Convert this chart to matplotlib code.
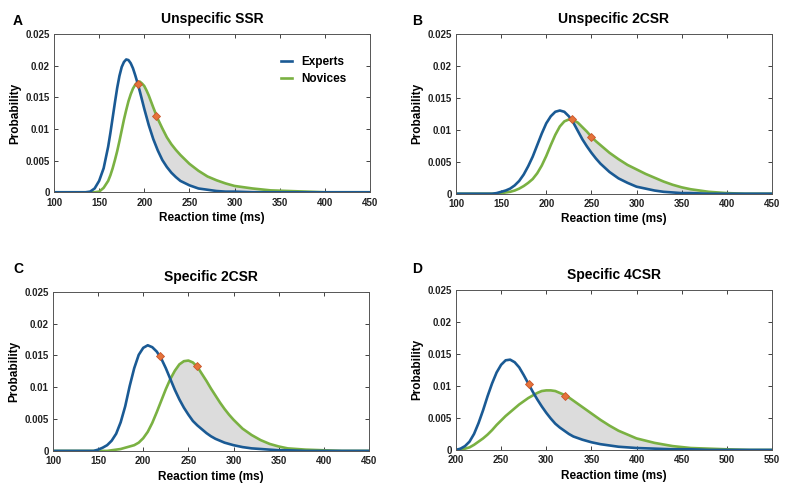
import matplotlib
matplotlib.use("Agg")
from matplotlib import pyplot as plt
from matplotlib.ticker import FuncFormatter
import numpy as np

plt.rcParams["font.family"] = ["Liberation Sans", "DejaVu Sans"]
plt.rcParams["font.weight"] = "bold"

BLUE = "#1a5a94"
GREEN = "#7ab142"
ORANGE = "#e5733a"

# panel A - Unspecific SSR
a_rt = [100, 135, 140, 145, 150, 155, 160, 162.5, 165, 167.5, 170, 172.5, 175, 177.5, 180,
        182.5, 185, 187.5, 190, 192.5, 195, 197.5, 200, 202.5, 205, 210, 215, 220, 225, 230,
        235, 240, 250, 260, 270, 280, 290, 300, 320, 340, 360, 380, 400, 450]
a_experts = [0, 0, 0.0001, 0.0006, 0.0018, 0.0038, 0.0072, 0.0094, 0.0118, 0.0142, 0.0165,
             0.0184, 0.0198, 0.0206, 0.0210, 0.0209, 0.0204, 0.0196, 0.0185, 0.0173, 0.0160,
             0.0146, 0.0132, 0.0119, 0.0106, 0.0084, 0.0066, 0.0051, 0.0040, 0.0031, 0.0024,
             0.0018, 0.0011, 0.0006, 0.0004, 0.0002, 0.0001, 0.0001, 0, 0, 0, 0, 0, 0]
a_novices = [0, 0, 0, 0, 0.0001, 0.0007, 0.0018, 0.0027, 0.0038, 0.0051, 0.0065, 0.0081,
             0.0098, 0.0115, 0.0130, 0.0144, 0.0155, 0.0164, 0.0170, 0.0174, 0.0175, 0.0172,
             0.0168, 0.0161, 0.0153, 0.0134, 0.0116, 0.0101, 0.0087, 0.0076, 0.0067, 0.0059,
             0.0045, 0.0034, 0.0025, 0.0019, 0.0014, 0.0010, 0.0006, 0.0003, 0.0002, 0.0001,
             0, 0]
a_marks_x = [193, 213]
a_marks_y = [0.0171, 0.0121]

# panel B - Unspecific 2CSR
b_rt = [100, 140, 145, 150, 155, 160, 165, 170, 175, 180, 185, 190, 195, 200, 205, 210, 215,
        220, 225, 230, 235, 240, 245, 250, 255, 260, 270, 280, 290, 300, 310, 320, 330, 340,
        350, 360, 380, 400, 420, 450]
b_experts = [0, 0, 0.0001, 0.0003, 0.0005, 0.0008, 0.0013, 0.0020, 0.0030, 0.0043, 0.0058,
             0.0076, 0.0094, 0.0110, 0.0121, 0.0128, 0.0130, 0.0128, 0.0121, 0.0111, 0.0098,
             0.0085, 0.0074, 0.0064, 0.0055, 0.0047, 0.0034, 0.0024, 0.0017, 0.0011, 0.0008,
             0.0005, 0.0003, 0.0002, 0.0001, 0.0001, 0, 0, 0, 0]
b_novices = [0, 0, 0, 0.0001, 0.0002, 0.0003, 0.0005, 0.0008, 0.0012, 0.0017, 0.0023, 0.0032,
             0.0044, 0.0059, 0.0076, 0.0092, 0.0105, 0.0113, 0.0116, 0.0115, 0.0111, 0.0104,
             0.0097, 0.0089, 0.0082, 0.0076, 0.0064, 0.0054, 0.0045, 0.0038, 0.0031, 0.0025,
             0.0019, 0.0014, 0.0010, 0.0007, 0.0003, 0.0001, 0, 0]
b_marks_x = [228.5, 250]
b_marks_y = [0.0116, 0.0089]

# panel C - Specific 2CSR
c_rt = [100, 145, 150, 155, 160, 165, 170, 175, 180, 185, 190, 195, 200, 205, 210, 215, 220,
        225, 230, 235, 240, 245, 250, 255, 260, 265, 270, 275, 280, 285, 290, 295, 300, 310,
        320, 330, 340, 350, 360, 380, 400, 420, 450]
c_experts = [0, 0, 0.0002, 0.0005, 0.0009, 0.0016, 0.0027, 0.0045, 0.0070, 0.0102, 0.0130,
             0.0151, 0.0162, 0.0166, 0.0163, 0.0156, 0.0145, 0.0130, 0.0113, 0.0096, 0.0081,
             0.0068, 0.0057, 0.0047, 0.0040, 0.0034, 0.0028, 0.0023, 0.0019, 0.0016, 0.0013,
             0.0011, 0.0009, 0.0006, 0.0004, 0.0003, 0.0002, 0.0001, 0.0001, 0, 0, 0, 0]
c_novices = [0, 0, 0, 0, 0, 0.0001, 0.0002, 0.0003, 0.0005, 0.0007, 0.0009, 0.0013, 0.0020,
             0.0030, 0.0044, 0.0061, 0.0079, 0.0097, 0.0113, 0.0126, 0.0136, 0.0141, 0.0142,
             0.0139, 0.0132, 0.0121, 0.0110, 0.0098, 0.0087, 0.0076, 0.0066, 0.0057, 0.0049,
             0.0035, 0.0025, 0.0017, 0.0011, 0.0007, 0.0004, 0.0002, 0.0001, 0, 0]
c_marks_x = [218.5, 259]
c_marks_y = [0.0149, 0.0134]

# panel D - Specific 4CSR
d_rt = [200, 205, 210, 215, 220, 225, 230, 235, 240, 245, 250, 255, 260, 265, 270, 275, 280,
        285, 290, 295, 300, 305, 310, 315, 320, 325, 330, 340, 350, 360, 370, 380, 390, 400,
        420, 440, 460, 480, 500, 525, 550]
d_experts = [0, 0.0002, 0.0006, 0.0013, 0.0025, 0.0042, 0.0062, 0.0084, 0.0104, 0.0121,
             0.0133, 0.0140, 0.0141, 0.0137, 0.0129, 0.0117, 0.0104, 0.0091, 0.0079, 0.0068,
             0.0058, 0.0049, 0.0041, 0.0035, 0.0030, 0.0025, 0.0021, 0.0016, 0.0012, 0.0009,
             0.0007, 0.0005, 0.0004, 0.0003, 0.0002, 0.0001, 0.0001, 0, 0, 0, 0]
d_novices = [0, 0.0001, 0.0002, 0.0004, 0.0008, 0.0013, 0.0018, 0.0024, 0.0031, 0.0039,
             0.0046, 0.0053, 0.0059, 0.0065, 0.0071, 0.0076, 0.0081, 0.0085, 0.0089, 0.0092,
             0.0093, 0.0093, 0.0092, 0.0089, 0.0086, 0.0082, 0.0077, 0.0067, 0.0057, 0.0047,
             0.0038, 0.0030, 0.0024, 0.0018, 0.0011, 0.0006, 0.0003, 0.0002, 0.0001, 0, 0]
d_marks_x = [280.5, 321]
d_marks_y = [0.0103, 0.0085]

panels = [
    ("A", "Unspecific SSR", a_rt, a_experts, a_novices, a_marks_x, a_marks_y, (100, 450),
     [0.0686, 0.606, 0.4015, 0.324], (0.0165, 0.957)),
    ("B", "Unspecific 2CSR", b_rt, b_experts, b_novices, b_marks_x, b_marks_y, (100, 450),
     [0.5794, 0.603, 0.4015, 0.328], (0.5235, 0.957)),
    ("C", "Specific 2CSR", c_rt, c_experts, c_novices, c_marks_x, c_marks_y, (100, 450),
     [0.0673, 0.076, 0.4015, 0.326], (0.0165, 0.449)),
    ("D", "Specific 4CSR", d_rt, d_experts, d_novices, d_marks_x, d_marks_y, (200, 550),
     [0.5794, 0.078, 0.4015, 0.328], (0.5235, 0.449)),
]

fig = plt.figure(figsize=(7.87, 4.88), dpi=100)

for letter, title, rt, exp_, nov, mx, my, xlim, rect, lpos in panels:
    ax = fig.add_axes(rect)
    rt = np.array(rt)
    exp_ = np.array(exp_)
    nov = np.array(nov)
    ax.fill_between(rt, exp_, nov, where=nov >= exp_, interpolate=True,
                    color="#dcdcdc", linewidth=0)
    ax.plot(rt, nov, color=GREEN, lw=1.9, label="Novices", solid_joinstyle="round")
    ax.plot(rt, exp_, color=BLUE, lw=1.9, label="Experts", solid_joinstyle="round")
    ax.plot(mx, my, "D", color=ORANGE, markersize=4.5, markeredgecolor="#c9552a",
            markeredgewidth=0.6, zorder=5)
    ax.set_xlim(*xlim)
    ax.set_ylim(0, 0.025)
    ax.set_yticks([0, 0.005, 0.01, 0.015, 0.02, 0.025])
    ax.set_xticks(np.arange(xlim[0], xlim[1] + 1, 50))
    ax.yaxis.set_major_formatter(FuncFormatter(lambda v, p: "%g" % v))
    ax.tick_params(direction="in", top=True, right=True, length=3, width=0.6,
                   labelsize=7, colors="#222222")
    ax.tick_params(axis="x", pad=4)
    ax.tick_params(axis="y", pad=3)
    for lab in ax.get_xticklabels() + ax.get_yticklabels():
        lab.set_fontweight("bold")
    for s in ax.spines.values():
        s.set_linewidth(0.7)
        s.set_color("#555555")
    ax.set_xlabel("Reaction time (ms)", fontsize=8.5, fontweight="bold", labelpad=3)
    ax.set_ylabel("Probability", fontsize=8.5, fontweight="bold", labelpad=3)
    ax.set_title(title, fontsize=10, fontweight="bold", pad=8)
    fig.text(lpos[0], lpos[1], letter, fontsize=10, fontweight="bold", va="center")
    if letter == "A":
        h, l = ax.get_legend_handles_labels()
        ax.legend(h[::-1], l[::-1], loc="upper right", bbox_to_anchor=(0.96, 0.93),
                  frameon=False, handlelength=0.9, handletextpad=0.8,
                  labelspacing=0.45, prop={"weight": "bold", "size": 8.5})

plt.savefig("out.png", dpi=100)
